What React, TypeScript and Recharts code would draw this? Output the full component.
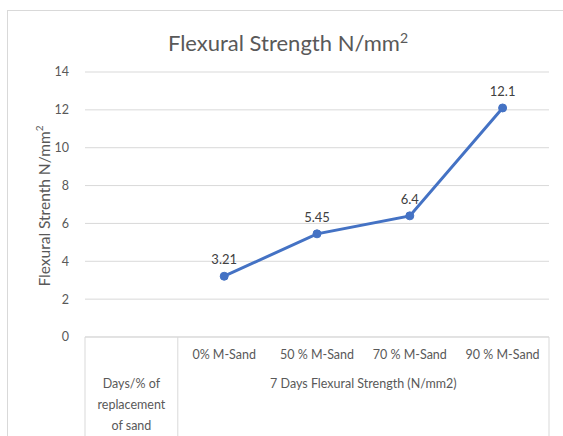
import React from 'react';
import { LineChart, Line, XAxis, YAxis, CartesianGrid, LabelList } from 'recharts';

const CATEGORIES = ['', '0% M-Sand', '50 % M-Sand', '70 % M-Sand', '90 % M-Sand'];
const STRENGTH = [null, 3.21, 5.45, 6.4, 12.1];
const Y_TICKS = [0, 2, 4, 6, 8, 10, 12, 14];
const GROUP_LEFT = ['Days/% of', 'replacement', 'of sand'];
const GROUP_RIGHT = '7 Days Flexural Strength (N/mm2)';

const FONT = 'Lato, "Noto Sans", sans-serif';
const GRID = '#d9d9d9';
const TEXT = '#595959';

const data = CATEGORIES.map((cat, i) => ({ cat, value: STRENGTH[i] }));

const CategoryTick = (props: any) => {
  const { x, y, payload, index } = props;
  const half = payload.offset || 0;
  const last = CATEGORIES.length - 1;
  return (
    <g>
      {index === 0 && <line x1={x - half} x2={x - half} y1={y} y2={y + 110} stroke={GRID} />}
      <line x1={x + half} x2={x + half} y1={y} y2={y + 110} stroke={index === 0 || index === last ? GRID : 'none'} />
      {payload.value && (
        <text x={x} y={y + 22} textAnchor="middle" fill={TEXT} fontSize={12.5} fontFamily={FONT}>
          {payload.value}
        </text>
      )}
      {index === 0 &&
        GROUP_LEFT.map((t, i) => (
          <text key={t} x={x} y={y + 51 + i * 21} textAnchor="middle" fill={TEXT} fontSize={12.5} fontFamily={FONT}>
            {t}
          </text>
        ))}
      {index === 2 && (
        <text x={x + half} y={y + 51} textAnchor="middle" fill={TEXT} fontSize={12.5} fontFamily={FONT}>
          {GROUP_RIGHT}
        </text>
      )}
    </g>
  );
};

export default function App() {
  return (
    <div style={{ position: 'absolute', left: 0, top: 0, width: 563, height: 436, overflow: 'hidden', background: '#fff', fontFamily: FONT }}>
      <div style={{ position: 'absolute', left: 7, top: 10, width: 600, height: 500, border: `1px solid ${GRID}` }} />
      <div style={{ position: 'absolute', left: 0, width: 576, top: 24, textAlign: 'center', fontSize: 22, color: TEXT, lineHeight: '28px' }}>
        Flexural Strength N/mm<sup style={{ fontSize: 14 }}>2</sup>
      </div>
      <div
        style={{
          position: 'absolute',
          left: 43,
          top: 206,
          transform: 'translate(-50%, -50%) rotate(-90deg)',
          whiteSpace: 'nowrap',
          fontSize: 15.5,
          color: TEXT,
        }}
      >
        Flexural Strenth N/mm<sup style={{ fontSize: 10 }}>2</sup>
      </div>
      <div style={{ position: 'absolute', left: 0, top: 0 }}>
        <LineChart width={563} height={436} data={data} margin={{ top: 72, right: 14, bottom: 0, left: 0 }}>
          <CartesianGrid vertical={false} stroke={GRID} />
          <XAxis
            dataKey="cat"
            scale="band"
            interval={0}
            height={99}
            tickSize={0}
            tickMargin={0}
            axisLine={{ stroke: GRID }}
            tickLine={false}
            tick={<CategoryTick />}
          />
          <YAxis
            width={85}
            domain={[0, 14]}
            ticks={Y_TICKS}
            axisLine={false}
            tickLine={false}
            tickMargin={10}
            tick={{ fill: TEXT, fontSize: 12.5, fontFamily: FONT }}
          />
          <Line
            dataKey="value"
            stroke="#4472C4"
            strokeWidth={3}
            dot={{ r: 4, fill: '#4472C4', stroke: '#4472C4', strokeWidth: 1 }}
            isAnimationActive={false}
          >
            <LabelList
              dataKey="value"
              position="top"
              offset={12}
              fill="#404040"
              fontSize={13}
              fontFamily={FONT}
              formatter={(v: any) => (v == null ? '' : v)}
            />
          </Line>
        </LineChart>
      </div>
    </div>
  );
}
